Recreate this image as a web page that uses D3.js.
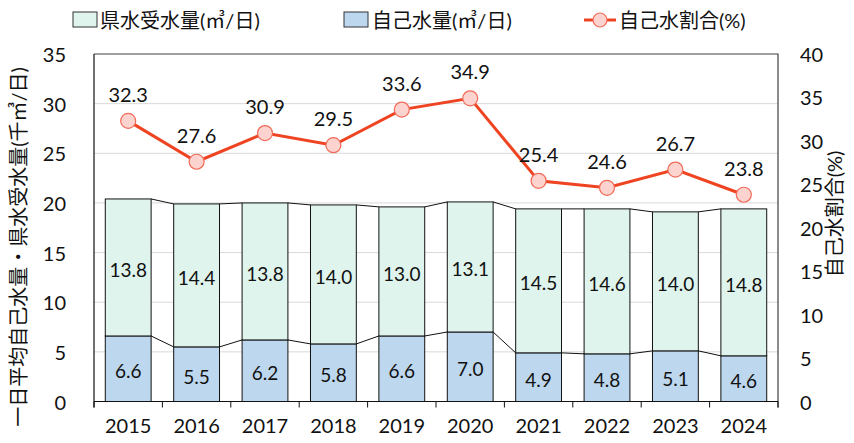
<!DOCTYPE html>
<html>
<head>
<meta charset="utf-8">
<script src="https://cdn.jsdelivr.net/npm/d3@7"></script>
<style>
  body { margin: 0; background: #fff; }
  text { font-family: Lato, "Noto Sans CJK JP", sans-serif; fill: #111; }
</style>
</head>
<body>
<svg id="chart" width="854" height="443"></svg>
<script>
const years = ["2015", "2016", "2017", "2018", "2019", "2020", "2021", "2022", "2023", "2024"];
const kensui = [13.8, 14.4, 13.8, 14.0, 13.0, 13.1, 14.5, 14.6, 14.0, 14.8];
const jikosui = [6.6, 5.5, 6.2, 5.8, 6.6, 7.0, 4.9, 4.8, 5.1, 4.6];
const ratio = [32.3, 27.6, 30.9, 29.5, 33.6, 34.9, 25.4, 24.6, 26.7, 23.8];
const leftTicks = [0, 5, 10, 15, 20, 25, 30, 35];
const rightTicks = [0, 5, 10, 15, 20, 25, 30, 35, 40];

const svg = d3.select("#chart");
const pL = 94, pR = 778, pT = 54, pB = 401.5;
const greenFill = "#dff4ec", blueFill = "#bdd7ee";
const lineColor = "#ee4422", markerFill = "#fcd3ce", markerStroke = "#f26a58";

const x = d3.scaleBand().domain(years).range([pL, pR]).paddingInner(0.33).paddingOuter(0.165);
const yL = d3.scaleLinear().domain([0, 35]).range([pB, pT]);
const yR = d3.scaleLinear().domain([0, 40]).range([pB, pT]);

// gridlines
svg.append("g").selectAll("line")
  .data(leftTicks.filter(d => d > 0 && d < 35))
  .enter().append("line")
  .attr("x1", pL).attr("x2", pR)
  .attr("y1", d => yL(d)).attr("y2", d => yL(d))
  .attr("stroke", "#d9d9d9").attr("stroke-width", 1);

// frame (top/right)
svg.append("path")
  .attr("d", `M${pL},${pT}H${pR}V${pB + 6}`)
  .attr("fill", "none").attr("stroke", "#404040").attr("stroke-width", 1.2);

// bars
const bw = x.bandwidth();
const bars = svg.append("g");
years.forEach((yr, i) => {
  bars.append("rect")
    .attr("x", x(yr)).attr("width", bw)
    .attr("y", yL(jikosui[i])).attr("height", yL(0) - yL(jikosui[i]))
    .attr("fill", blueFill).attr("stroke", "#111").attr("stroke-width", 1);
  bars.append("rect")
    .attr("x", x(yr)).attr("width", bw)
    .attr("y", yL(jikosui[i] + kensui[i])).attr("height", yL(jikosui[i]) - yL(jikosui[i] + kensui[i]))
    .attr("fill", greenFill).attr("stroke", "#111").attr("stroke-width", 1);
});

// series lines between bars
const sl = svg.append("g").attr("stroke", "#111").attr("stroke-width", 1);
for (let i = 0; i < years.length - 1; i++) {
  sl.append("line")
    .attr("x1", x(years[i]) + bw).attr("x2", x(years[i + 1]))
    .attr("y1", yL(jikosui[i])).attr("y2", yL(jikosui[i + 1]));
  sl.append("line")
    .attr("x1", x(years[i]) + bw).attr("x2", x(years[i + 1]))
    .attr("y1", yL(jikosui[i] + kensui[i])).attr("y2", yL(jikosui[i + 1] + kensui[i + 1]));
}

// bar labels
years.forEach((yr, i) => {
  const cx = x(yr) + bw / 2;
  svg.append("text").attr("x", cx)
    .attr("y", (yL(0) + yL(jikosui[i])) / 2 + 2)
    .attr("text-anchor", "middle").attr("dominant-baseline", "central")
    .style("font-size", "19px").text(jikosui[i].toFixed(1));
  svg.append("text").attr("x", cx)
    .attr("y", (yL(jikosui[i]) + yL(jikosui[i] + kensui[i])) / 2 + 2)
    .attr("text-anchor", "middle").attr("dominant-baseline", "central")
    .style("font-size", "19px").text(kensui[i].toFixed(1));
});

// axes lines
svg.append("line").attr("x1", pL).attr("x2", pR).attr("y1", pB).attr("y2", pB)
  .attr("stroke", "#111").attr("stroke-width", 1.2);
svg.append("line").attr("x1", pL).attr("x2", pL).attr("y1", pT).attr("y2", pB + 6)
  .attr("stroke", "#111").attr("stroke-width", 1.2);
const step = x.step();
svg.append("g").selectAll("line")
  .data(d3.range(years.length + 1))
  .enter().append("line")
  .attr("x1", d => pL + d * step).attr("x2", d => pL + d * step)
  .attr("y1", pB).attr("y2", pB + 6)
  .attr("stroke", "#111");
svg.append("g").selectAll("text")
  .data(years).enter().append("text")
  .attr("x", d => x(d) + bw / 2).attr("y", 433)
  .attr("text-anchor", "middle").style("font-size", "20px").text(d => d);

// left ticks
svg.append("g").selectAll("text")
  .data(leftTicks).enter().append("text")
  .attr("x", 66).attr("y", d => yL(d)).attr("dominant-baseline", "central")
  .attr("text-anchor", "end").style("font-size", "20px").text(d => d);

// right ticks
svg.append("g").selectAll("text")
  .data(rightTicks).enter().append("text")
  .attr("x", 800).attr("y", d => yR(d)).attr("dominant-baseline", "central")
  .attr("text-anchor", "start").style("font-size", "20px").text(d => d);

// ratio line
const line = d3.line().x((d, i) => x(years[i]) + bw / 2).y(d => yR(d));
svg.append("path").datum(ratio).attr("d", line)
  .attr("fill", "none").attr("stroke", lineColor).attr("stroke-width", 3);
svg.append("g").selectAll("circle")
  .data(ratio).enter().append("circle")
  .attr("cx", (d, i) => x(years[i]) + bw / 2).attr("cy", d => yR(d)).attr("r", 7.5)
  .attr("fill", markerFill).attr("stroke", markerStroke).attr("stroke-width", 1.2);
svg.append("g").selectAll("text")
  .data(ratio).enter().append("text")
  .attr("x", (d, i) => x(years[i]) + bw / 2).attr("y", d => yR(d) - 27)
  .attr("text-anchor", "middle").attr("dominant-baseline", "central")
  .style("font-size", "20px").text(d => d.toFixed(1));

// axis titles
svg.append("text")
  .attr("transform", "translate(18,247) rotate(-90)")
  .attr("text-anchor", "middle").attr("dominant-baseline", "central")
  .style("font-size", "20px").text("一日平均自己水量・県水受水量(千㎥/日)");
svg.append("text")
  .attr("transform", "translate(834,214) rotate(-90)")
  .attr("text-anchor", "middle").attr("dominant-baseline", "central")
  .style("font-size", "20px").text("自己水割合(%)");

// legend
const lg = svg.append("g");
lg.append("rect").attr("x", 73).attr("y", 12).attr("width", 24).attr("height", 15)
  .attr("fill", greenFill).attr("stroke", "#333");
lg.append("text").attr("x", 100).attr("y", 20).attr("dominant-baseline", "central")
  .style("font-size", "20px").text("県水受水量(㎥/日)");
lg.append("rect").attr("x", 344).attr("y", 12).attr("width", 24).attr("height", 15)
  .attr("fill", blueFill).attr("stroke", "#333");
lg.append("text").attr("x", 372).attr("y", 20).attr("dominant-baseline", "central")
  .style("font-size", "20px").text("自己水量(㎥/日)");
lg.append("line").attr("x1", 584).attr("x2", 616).attr("y1", 20).attr("y2", 20)
  .attr("stroke", lineColor).attr("stroke-width", 3);
lg.append("circle").attr("cx", 600).attr("cy", 20).attr("r", 7)
  .attr("fill", markerFill).attr("stroke", markerStroke).attr("stroke-width", 1.2);
lg.append("text").attr("x", 619).attr("y", 20).attr("dominant-baseline", "central")
  .style("font-size", "20px").text("自己水割合(%)");
</script>
</body>
</html>
